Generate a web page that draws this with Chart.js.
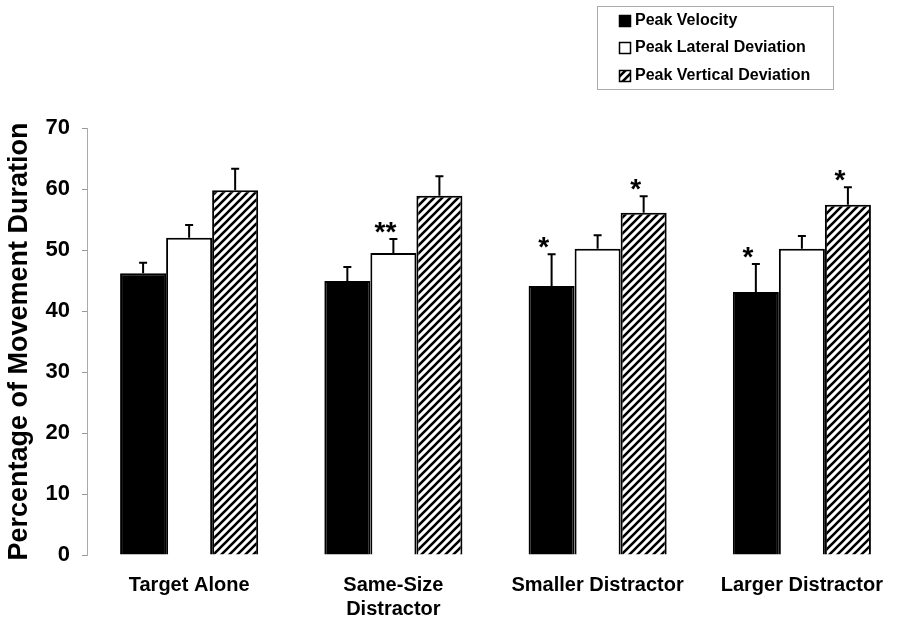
<!DOCTYPE html>
<html>
<head>
<meta charset="utf-8">
<script src="https://cdn.jsdelivr.net/npm/chart.js@4.4.1/dist/chart.umd.min.js"></script>
<style>
  html, body { margin: 0; padding: 0; background: #fff; }
  canvas { display: block; }
</style>
</head>
<body>
<canvas id="durationChart" width="906" height="622"></canvas>
<script>
const categories = [["Target Alone"], ["Same-Size", "Distractor"], ["Smaller Distractor"], ["Larger Distractor"]];
const seriesNames = ["Peak Velocity", "Peak Lateral Deviation", "Peak Vertical Deviation"];

const peakVelocity = [46.2, 44.9, 44.1, 43.1];
const peakLateral = [52.0, 49.5, 50.2, 50.2];
const peakVertical = [59.8, 58.9, 56.1, 57.4];

// upper error bar lengths
const velocityErr = [1.7, 2.3, 5.2, 4.6];
const lateralErr = [2.1, 2.3, 2.2, 2.1];
const verticalErr = [3.5, 3.2, 2.7, 2.9];

// significance marks above the error bars
const velocitySig = ["", "", "*", "*"];
const lateralSig = ["", "**", "", ""];
const verticalSig = ["", "", "*", "*"];

const yTicks = [0, 10, 20, 30, 40, 50, 60, 70];

const FONT = "'Liberation Sans', Arial, Helvetica, sans-serif";

function makeHatch(ctx) {
  const c = document.createElement("canvas");
  c.width = 8;
  c.height = 8;
  const g = c.getContext("2d");
  g.fillStyle = "#fff";
  g.fillRect(0, 0, 8, 8);
  g.strokeStyle = "#000";
  g.lineWidth = 2.6;
  g.beginPath();
  g.moveTo(-2, 10); g.lineTo(10, -2);
  g.moveTo(-2, 2); g.lineTo(2, -2);
  g.moveTo(6, 10); g.lineTo(10, 6);
  g.stroke();
  return ctx.createPattern(c, "repeat");
}

const errorBarPlugin = {
  id: "errorBars",
  afterDatasetsDraw(chart) {
    const ctx = chart.ctx;
    const yScale = chart.scales.y;
    ctx.save();
    ctx.strokeStyle = "#000";
    ctx.lineWidth = 2;
    ctx.fillStyle = "#000";
    ctx.font = "bold 28px " + FONT;
    ctx.textAlign = "center";
    ctx.textBaseline = "alphabetic";
    chart.data.datasets.forEach((ds, i) => {
      chart.getDatasetMeta(i).data.forEach((bar, j) => {
        const top = yScale.getPixelForValue(ds.data[j] + ds.errors[j]);
        ctx.beginPath();
        ctx.moveTo(bar.x, bar.y);
        ctx.lineTo(bar.x, top);
        ctx.moveTo(bar.x - 4, top);
        ctx.lineTo(bar.x + 4, top);
        ctx.stroke();
        if (ds.sig[j]) {
          ctx.fillText(ds.sig[j], bar.x - 8, top + 2);
        }
      });
    });
    ctx.restore();
  }
};

const legendBoxPlugin = {
  id: "legendBox",
  afterDraw(chart) {
    const ctx = chart.ctx;
    ctx.save();
    ctx.strokeStyle = "#aaa";
    ctx.lineWidth = 1;
    ctx.strokeRect(597.5, 6.5, 236, 83);
    ctx.font = "bold 16px " + FONT;
    ctx.textBaseline = "middle";
    ctx.textAlign = "left";
    const rows = [21, 48, 76];
    chart.data.datasets.forEach((ds, i) => {
      const y = rows[i];
      ctx.fillStyle = ds.backgroundColor;
      ctx.fillRect(619, y - 6, 12, 12);
      ctx.strokeStyle = "#000";
      ctx.lineWidth = 1.5;
      ctx.strokeRect(619.5, y - 5.5, 11, 11);
      ctx.fillStyle = "#000";
      ctx.fillText(ds.label, 635, y);
    });
    ctx.restore();
  }
};

function renderChart() {
  const ctx = document.getElementById("durationChart").getContext("2d");
  const hatch = makeHatch(ctx);
  const colors = ["#000", "#fff", hatch];
  const values = [peakVelocity, peakLateral, peakVertical];
  const errs = [velocityErr, lateralErr, verticalErr];
  const sigs = [velocitySig, lateralSig, verticalSig];

  return new Chart(ctx, {
    type: "bar",
    data: {
      labels: categories,
      datasets: seriesNames.map((name, i) => ({
        label: name,
        data: values[i],
        errors: errs[i],
        sig: sigs[i],
        backgroundColor: colors[i],
        borderColor: "#000",
        borderWidth: 2,
        categoryPercentage: 0.676,
        barPercentage: 1.0
      }))
    },
    options: {
      responsive: false,
      animation: false,
      layout: { padding: { top: 128, right: 2, left: 0, bottom: 0 } },
      plugins: {
        legend: { display: false },
        tooltip: { enabled: false }
      },
      scales: {
        x: {
          grid: { display: false, drawTicks: false },
          border: { display: false },
          ticks: {
            color: "#000",
            padding: 18,
            maxRotation: 0,
            autoSkip: false,
            font: { family: FONT, size: 20, weight: "bold", lineHeight: 1.2 }
          },
          afterFit(scale) { scale.height = 67; }
        },
        y: {
          min: 0,
          max: 70,
          afterBuildTicks(scale) { scale.ticks = yTicks.map(v => ({ value: v })); },
          grid: { drawOnChartArea: false, color: "#999", tickLength: 5 },
          border: { display: true, color: "#aaa", dash: [2, 2] },
          ticks: {
            color: "#000",
            padding: 12,
            font: { family: FONT, size: 22, weight: "bold" }
          },
          title: {
            display: true,
            text: "Percentage of Movement Duration",
            color: "#000",
            padding: { top: 3, bottom: 0 },
            font: { family: FONT, size: 27, weight: "bold" }
          },
          afterFit(scale) { scale.width = 87; }
        }
      }
    },
    plugins: [errorBarPlugin, legendBoxPlugin]
  });
}

renderChart();
</script>
</body>
</html>
